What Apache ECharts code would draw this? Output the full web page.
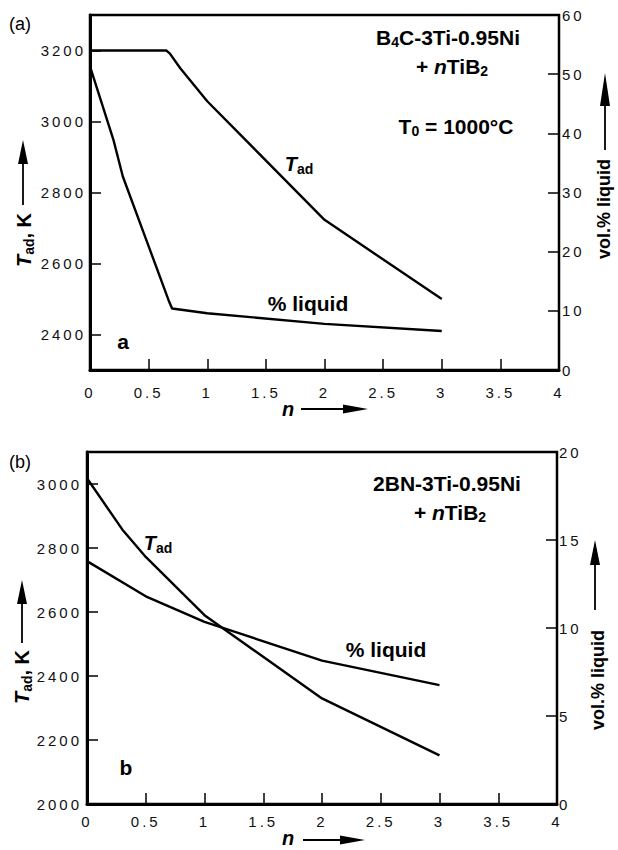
<!DOCTYPE html>
<html><head><meta charset="utf-8">
<script src="https://cdn.jsdelivr.net/npm/echarts@6/dist/echarts.min.js"></script>
<style>
html,body{margin:0;padding:0;background:#fff;}
#c{width:618px;height:850px;}
#c text[style*="15px"]{letter-spacing:3px;}
</style></head><body><div id="c"></div>
<script>
// ---- data (a) B4C-3Ti-0.95Ni + nTiB2 ----
var nA_T   = [0, 0.65, 0.68, 0.77, 1, 2, 3];
var tadA   = [3200, 3200, 3192, 3150, 3057, 2723, 2500];
var nA_L   = [0, 0.2, 0.28, 0.48, 0.67, 0.7, 1, 2, 3];
var liqA   = [51.3, 38.9, 32.7, 22.0, 11.8, 10.4, 9.6, 7.8, 6.6];
// ---- data (b) 2BN-3Ti-0.95Ni + nTiB2 ----
var nB_T   = [0, 0.3, 0.5, 1, 2, 3];
var tadB   = [3018, 2858, 2772, 2590, 2330, 2152];
var nB_L   = [0, 0.5, 1, 2, 3];
var liqB   = [13.8, 11.8, 10.35, 8.15, 6.75];
// ---- tick labels ----
var ticksA_T = [2400, 2600, 2800, 3000, 3200];
var ticksB_T = [2000, 2200, 2400, 2600, 2800, 3000];

function pairs(xs, ys){ return xs.map(function(x,i){ return [x, ys[i]]; }); }

var FONT = 'Liberation Sans, Arial, sans-serif';
var chart = echarts.init(document.getElementById('c'), null, {renderer:'svg'});

function plain(v){ return String(v); }
function xAx(g, margin){
  return {gridIndex:g, type:'value', min:0, max:4, interval:0.5,
    axisLine:{show:true, onZero:false, lineStyle:{color:'#000', width:3}},
    axisTick:{show:true, inside:true, length:11, lineStyle:{color:'#000', width:1.5}},
    axisLabel:{fontFamily:FONT, fontSize:15, color:'#111', margin:margin, formatter:plain},
    splitLine:{show:false}};
}
function yAx(g, pos, min, max, interval, custom, lw, margin){
  var a = {gridIndex:g, type:'value', position:pos, min:min, max:max, interval:interval,
    axisLine:{show:true, onZero:false, lineStyle:{color:'#000', width:lw}},
    axisTick:{show:true, inside:true, length:11, lineStyle:{color:'#000', width:1.5}},
    axisLabel:{fontFamily:FONT, fontSize:15, color:'#111', margin:margin, formatter:plain},
    splitLine:{show:false}};
  if (custom){ a.axisTick.customValues = custom; a.axisLabel.customValues = custom; }
  return a;
}
function line(xi, yi, data){
  return {type:'line', xAxisIndex:xi, yAxisIndex:yi, data:data, showSymbol:false, symbol:'none',
    silent:true, lineStyle:{color:'#000', width:2.4}};
}

var richBase = {
  s:{fontFamily:FONT, fontWeight:'bold', fontSize:14, fill:'#000', padding:[10,0,0,0]},
  i:{fontFamily:FONT, fontWeight:'bold', fontStyle:'italic', fontSize:20, fill:'#000'},
  I:{fontFamily:FONT, fontWeight:'bold', fontStyle:'italic', fontSize:21, fill:'#000'},
  b:{fontFamily:FONT, fontWeight:'bold', fontSize:20, fill:'#000'},
  B:{fontFamily:FONT, fontWeight:'bold', fontSize:21, fill:'#000'},
  v:{fontFamily:FONT, fontWeight:'bold', fontSize:18, fill:'#000'},
  r:{fontFamily:FONT, fontWeight:'normal', fontSize:18, fill:'#000'}
};
function txt(x, y, text, rot){
  return {type:'text', x:x, y:y, rotation:rot||0, silent:true,
    style:{text:text, fontFamily:FONT, fontSize:20, fontWeight:'bold', fill:'#000',
      align:'center', verticalAlign:'middle', rich:richBase}};
}
function upArrow(x, tip, base, bottom, w){
  return [
    {type:'line', silent:true, shape:{x1:x, y1:base-2, x2:x, y2:bottom}, style:{stroke:'#000', lineWidth:1.8}},
    {type:'polygon', silent:true, shape:{points:[[x,tip],[x-w/2,base],[x+w/2,base]]}, style:{fill:'#000'}}
  ];
}
function rightArrow(y, start, base, tip, h){
  return [
    {type:'line', silent:true, shape:{x1:start, y1:y, x2:base+2, y2:y}, style:{stroke:'#000', lineWidth:1.8}},
    {type:'polygon', silent:true, shape:{points:[[tip,y],[base,y-h/2],[base,y+h/2]]}, style:{fill:'#000'}}
  ];
}

var graphics = [
  txt(20, 24, '{r|(a)}'),
  txt(448, 37, '{B|B}{s|4}{B|C-3Ti-0.95Ni}'),
  txt(452, 66, '{B|+ }{I|n}{B|TiB}{s|2}'),
  txt(456, 126, '{B|T}{s|0}{B| = 1000°C}'),
  txt(299, 164, '{i|T}{s|ad}'),
  txt(308, 303, '{B|% liquid}'),
  txt(123, 341, '{B|a}'),
  txt(24, 240, '{i|T}{s|ad}{b|, K}', Math.PI/2),
  txt(604, 209, '{v|vol.% liquid}', Math.PI/2),
  txt(288, 409, '{i|n}'),

  txt(20, 462, '{r|(b)}'),
  txt(447, 483, '{B|2BN-3Ti-0.95Ni}'),
  txt(450, 512, '{B|+ }{I|n}{B|TiB}{s|2}'),
  txt(158, 543, '{i|T}{s|ad}'),
  txt(386, 649, '{B|% liquid}'),
  txt(126, 767, '{B|b}'),
  txt(22, 677, '{i|T}{s|ad}{b|, K}', Math.PI/2),
  txt(598, 680, '{v|vol.% liquid}', Math.PI/2),
  txt(288, 838, '{i|n}')
];
graphics = graphics
  .concat(upArrow(23, 140, 164, 205, 10))
  .concat(upArrow(605, 73, 106, 150, 10))
  .concat(rightArrow(409, 301, 343, 368, 9))
  .concat(upArrow(22, 580, 604, 643, 10))
  .concat(upArrow(595, 540, 565, 610, 10))
  .concat(rightArrow(840, 303, 340, 365, 9));

chart.setOption({
  animation:false,
  backgroundColor:'#fff',
  grid:[
    {left:90, top:15, width:469, height:355, show:true, borderColor:'#000', borderWidth:2.5, backgroundColor:'transparent'},
    {left:87, top:452, width:470, height:352, show:true, borderColor:'#000', borderWidth:2.5, backgroundColor:'transparent'}
  ],
  xAxis:[ xAx(0, 15), xAx(1, 10) ],
  yAxis:[
    yAx(0, 'left', 2300, 3300, 100, ticksA_T, 3, 4),
    yAx(0, 'right', 0, 60, 10, null, 2, 3),
    yAx(1, 'left', 2000, 3100, 100, ticksB_T, 3, 5),
    yAx(1, 'right', 0, 20, 5, null, 2, 2)
  ],
  series:[
    line(0, 0, pairs(nA_T, tadA)),
    line(0, 1, pairs(nA_L, liqA)),
    line(1, 2, pairs(nB_T, tadB)),
    line(1, 3, pairs(nB_L, liqB))
  ],
  graphic:graphics
});
</script></body></html>
